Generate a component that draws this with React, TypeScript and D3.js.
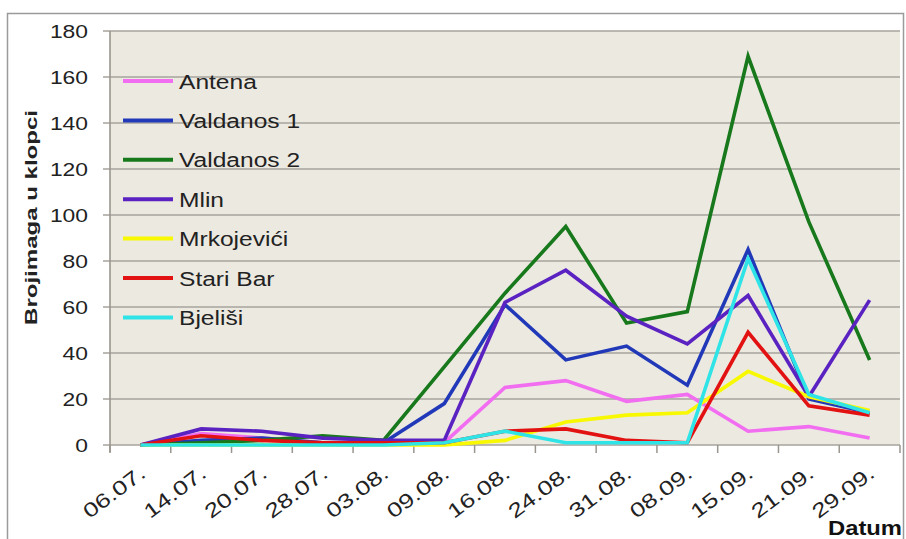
import React from "react";
import * as d3 from "d3";

const categories = ["06.07.", "14.07.", "20.07.", "28.07.", "03.08.", "09.08.", "16.08.", "24.08.", "31.08.", "08.09.", "15.09.", "21.09.", "29.09."];

const antena = [0, 5, 3, 1, 1, 1, 25, 28, 19, 22, 6, 8, 3];
const valdanos1 = [0, 2, 3, 1, 1, 18, 61, 37, 43, 26, 85, 20, 14];
const valdanos2 = [0, 1, 2, 4, 2, 34, 66, 95, 53, 58, 169, 97, 37];
const mlin = [0, 7, 6, 3, 2, 2, 62, 76, 56, 44, 65, 21, 63];
const mrkojevici = [0, 0, 0, 0, 0, 0, 2, 10, 13, 14, 32, 21, 15];
const stariBar = [0, 4, 2, 1, 1, 1, 6, 7, 2, 1, 49, 17, 13];
const bjelisi = [0, 0, 0, 0, 0, 1, 6, 1, 1, 1, 81, 22, 14];

const seriesNames = ["Antena", "Valdanos 1", "Valdanos 2", "Mlin", "Mrkojevići", "Stari Bar", "Bjeliši"];
const seriesValues = [antena, valdanos1, valdanos2, mlin, mrkojevici, stariBar, bjelisi];
const seriesColors = ["#f26ef0", "#2139b8", "#17791b", "#5b22c2", "#f8f800", "#e31212", "#2ee4e6"];

const yTicks = [0, 20, 40, 60, 80, 100, 120, 140, 160, 180];

const FONT = "'Liberation Sans', Arial, sans-serif";

export default function App() {
  const left = 110, right = 900, top = 31, bottom = 445;
  const x = d3.scaleBand<string>().domain(categories).range([left, right]).padding(0);
  const y = d3.scaleLinear().domain([0, 180]).range([bottom, top]);
  const cx = (c: string) => (x(c) as number) + x.bandwidth() / 2;
  const line = d3
    .line<number>()
    .x((_, i) => cx(categories[i]))
    .y((v) => y(v));

  const boundaries = categories.map((c) => x(c) as number).concat([right]);

  return (
    <svg
      width={906}
      height={539}
      style={{ position: "absolute", left: 0, top: 0, display: "block", background: "#fff" }}
      fontFamily={FONT}
    >
      <rect x={7.5} y={13.5} width={896} height={540} fill="#fff" stroke="#9a9a9a" strokeWidth={1.5} />
      <rect x={left} y={top} width={right - left} height={bottom - top} fill="#ece9e1" />
      {yTicks.map((t) => (
        <g key={t}>
          <line x1={103} x2={right} y1={y(t)} y2={y(t)} stroke="#a7a39c" strokeWidth={1.6} />
          <text
            transform={`translate(88,${y(t) + 6.5}) scale(1.27,1)`}
            textAnchor="end"
            fontSize={18}
            fill="#222"
          >
            {t}
          </text>
        </g>
      ))}
      <line x1={left} x2={left} y1={top} y2={bottom + 7} stroke="#9a968f" strokeWidth={1.6} />
      {boundaries.map((b, i) => (
        <line key={i} x1={b} x2={b} y1={bottom} y2={bottom + 8} stroke="#9a968f" strokeWidth={1.5} />
      ))}
      {categories.map((c) => (
        <text
          key={c}
          transform={`translate(${cx(c) + 6.5},476) rotate(-37)`}
          textAnchor="end"
          fontSize={20}
          fill="#222"
          textLength={72}
          lengthAdjust="spacingAndGlyphs"
        >
          {c}
        </text>
      ))}
      {seriesValues.map((vals, i) => (
        <path
          key={seriesNames[i]}
          d={line(vals) as string}
          fill="none"
          stroke={seriesColors[i]}
          strokeWidth={3.6}
          strokeLinejoin="miter"
        />
      ))}
      {seriesNames.map((n, i) => {
        const ly = 81 + i * 39.4;
        return (
          <g key={n}>
            <line x1={123} x2={173} y1={ly} y2={ly} stroke={seriesColors[i]} strokeWidth={4} />
            <text transform={`translate(179,${ly + 7.5}) scale(1.17,1)`} fontSize={21} fill="#222">
              {n}
            </text>
          </g>
        );
      })}
      <text
        transform="translate(37,217.5) rotate(-90)"
        textAnchor="middle"
        fontSize={17}
        fontWeight="bold"
        fill="#222"
        textLength={215}
        lengthAdjust="spacingAndGlyphs"
      >
        Brojimaga u klopci
      </text>
      <text
        x={828}
        y={535}
        fontSize={21}
        fontWeight="bold"
        fill="#111"
        textLength={74}
        lengthAdjust="spacingAndGlyphs"
      >
        Datum
      </text>
    </svg>
  );
}
